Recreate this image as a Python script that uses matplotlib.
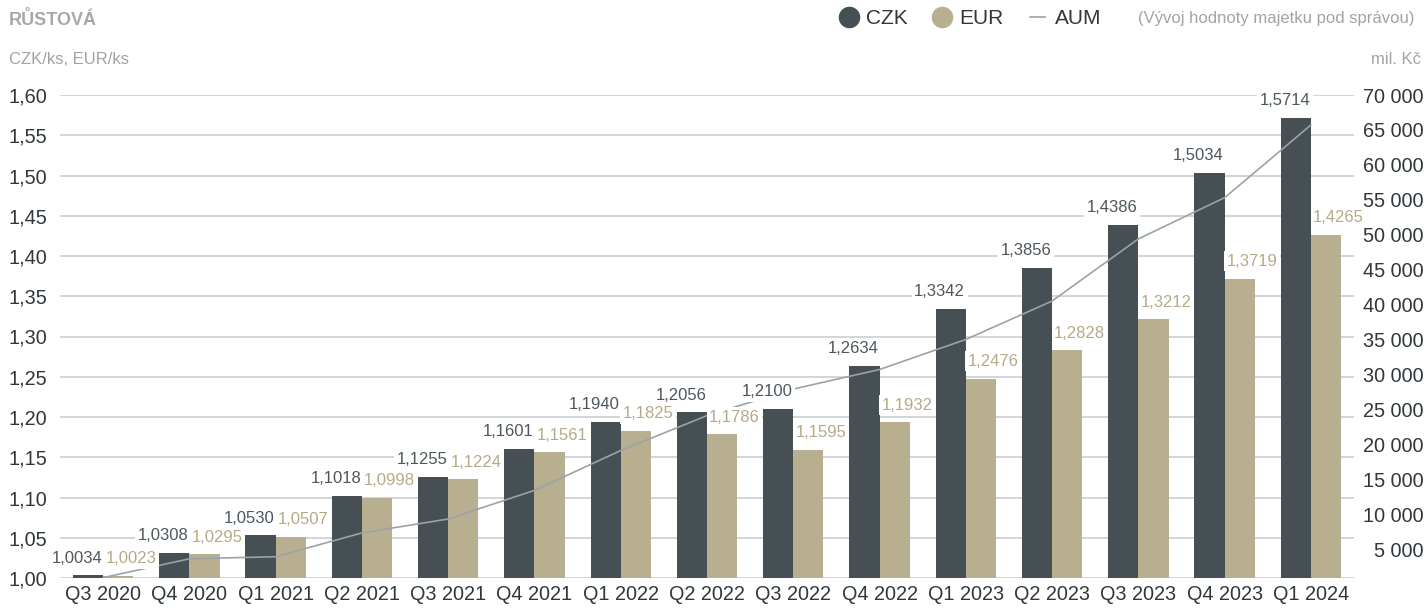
import numpy as np
import matplotlib.pyplot as plt
from matplotlib.lines import Line2D

plt.rcParams['font.family'] = ['Liberation Sans', 'DejaVu Sans']

# data
quarters = ['Q3 2020', 'Q4 2020', 'Q1 2021', 'Q2 2021', 'Q3 2021', 'Q4 2021',
            'Q1 2022', 'Q2 2022', 'Q3 2022', 'Q4 2022', 'Q1 2023', 'Q2 2023',
            'Q3 2023', 'Q4 2023', 'Q1 2024']
czk = [1.0034, 1.0308, 1.0530, 1.1018, 1.1255, 1.1601, 1.1940, 1.2056,
       1.2100, 1.2634, 1.3342, 1.3856, 1.4386, 1.5034, 1.5714]
eur = [1.0023, 1.0295, 1.0507, 1.0998, 1.1224, 1.1561, 1.1825, 1.1786,
       1.1595, 1.1932, 1.2476, 1.2828, 1.3212, 1.3719, 1.4265]
aum = [900, 3600, 3900, 7300, 9300, 13400, 19100, 24100, 27900, 30700,
       35000, 40500, 49400, 55300, 65700]

C_CZK = '#454f54'
C_EUR = '#b8ae90'
C_CZK_TXT = '#4d575c'
C_EUR_TXT = '#b5aa88'
C_AUM = '#9ba2a8'
C_GRID = '#c6cace'
C_GREY = '#9fa4a8'
C_TICK = '#30373b'

fig = plt.figure(figsize=(14.24, 6.08), dpi=100)
ax = fig.add_axes([60 / 1424, 1 - 578 / 608, (1354 - 60) / 1424, (578 - 95) / 608])

x = np.arange(len(quarters))
w = 0.35
ax.bar(x - w / 2, czk, w, color=C_CZK, zorder=2)
ax.bar(x + w / 2, eur, w, color=C_EUR, zorder=2)

ax.set_xlim(-0.5, len(quarters) - 0.5)
ax.set_ylim(1.0, 1.6)
yt = np.arange(1.0, 1.601, 0.05)
ax.set_yticks(yt)
ax.set_yticklabels([f'{v:.2f}'.replace('.', ',') for v in yt])
ax.set_xticks(x)
ax.set_xticklabels(quarters)
ax.grid(axis='y', color=C_GRID, lw=1.1, zorder=0)
ax.set_axisbelow(True)
for s in ax.spines.values():
    s.set_visible(False)
ax.tick_params(axis='both', length=0, labelsize=14.3, colors=C_TICK)
ax.tick_params(axis='y', pad=9)
ax.tick_params(axis='x', pad=5)

# AUM on secondary axis
ax2 = ax.twinx()
ax2.plot(x, aum, color=C_AUM, lw=1.2, zorder=2)
ax2.set_ylim(850, 69700)
ax2.set_yticks(np.arange(5000, 70001, 5000))
ax2.set_yticklabels([f'{v:,}'.replace(',', ' ') for v in range(5000, 70001, 5000)])
for s in ax2.spines.values():
    s.set_visible(False)
ax2.tick_params(axis='y', length=0, labelsize=14.3, colors=C_TICK, pad=50)
for lab in ax2.get_yticklabels():
    lab.set_horizontalalignment('right')

# data labels
box = dict(boxstyle='square,pad=0.15', fc='white', ec='none')
for i in range(len(quarters)):
    ax2.annotate(f'{czk[i]:.4f}'.replace('.', ','), (x[i] - w / 2, czk[i]),
                 xycoords=ax.transData, xytext=(-8, 7), textcoords='offset points',
                 ha='center', va='bottom', fontsize=12, color=C_CZK_TXT,
                 bbox=box, zorder=5)
    ax2.annotate(f'{eur[i]:.4f}'.replace('.', ','), (x[i] + w / 2, eur[i]),
                 xycoords=ax.transData, xytext=(9, 7), textcoords='offset points',
                 ha='center', va='bottom', fontsize=12, color=C_EUR_TXT,
                 bbox=box, zorder=5)

# header texts
fig.text(9 / 1424, 1 - 20 / 608, 'RŮSTOVÁ', fontsize=13, fontweight='bold',
         color='#a4a9ad', ha='left', va='center')
fig.text(9 / 1424, 1 - 60 / 608, 'CZK/ks, EUR/ks', fontsize=12,
         color=C_GREY, ha='left', va='center')
fig.text(1421 / 1424, 1 - 60 / 608, 'mil. Kč', fontsize=12,
         color=C_GREY, ha='right', va='center')
fig.text(1415 / 1424, 1 - 19 / 608, '(Vývoj hodnoty majetku pod správou)',
         fontsize=12, color=C_GREY, ha='right', va='center')

handles = [Line2D([], [], marker='o', ls='none', color=C_CZK, markersize=14.5),
           Line2D([], [], marker='o', ls='none', color=C_EUR, markersize=14.5),
           Line2D([], [], color=C_AUM, lw=1.2)]
leg = fig.legend(handles, ['CZK', 'EUR', 'AUM'], loc='center right',
                 bbox_to_anchor=(1101 / 1424, 1 - 19 / 608), ncol=3, frameon=False,
                 fontsize=15, handlelength=0.75, handletextpad=0.45,
                 columnspacing=1.25, borderaxespad=0, borderpad=0)
for t in leg.get_texts():
    t.set_color(C_TICK)

fig.savefig('out.png', dpi=100)
